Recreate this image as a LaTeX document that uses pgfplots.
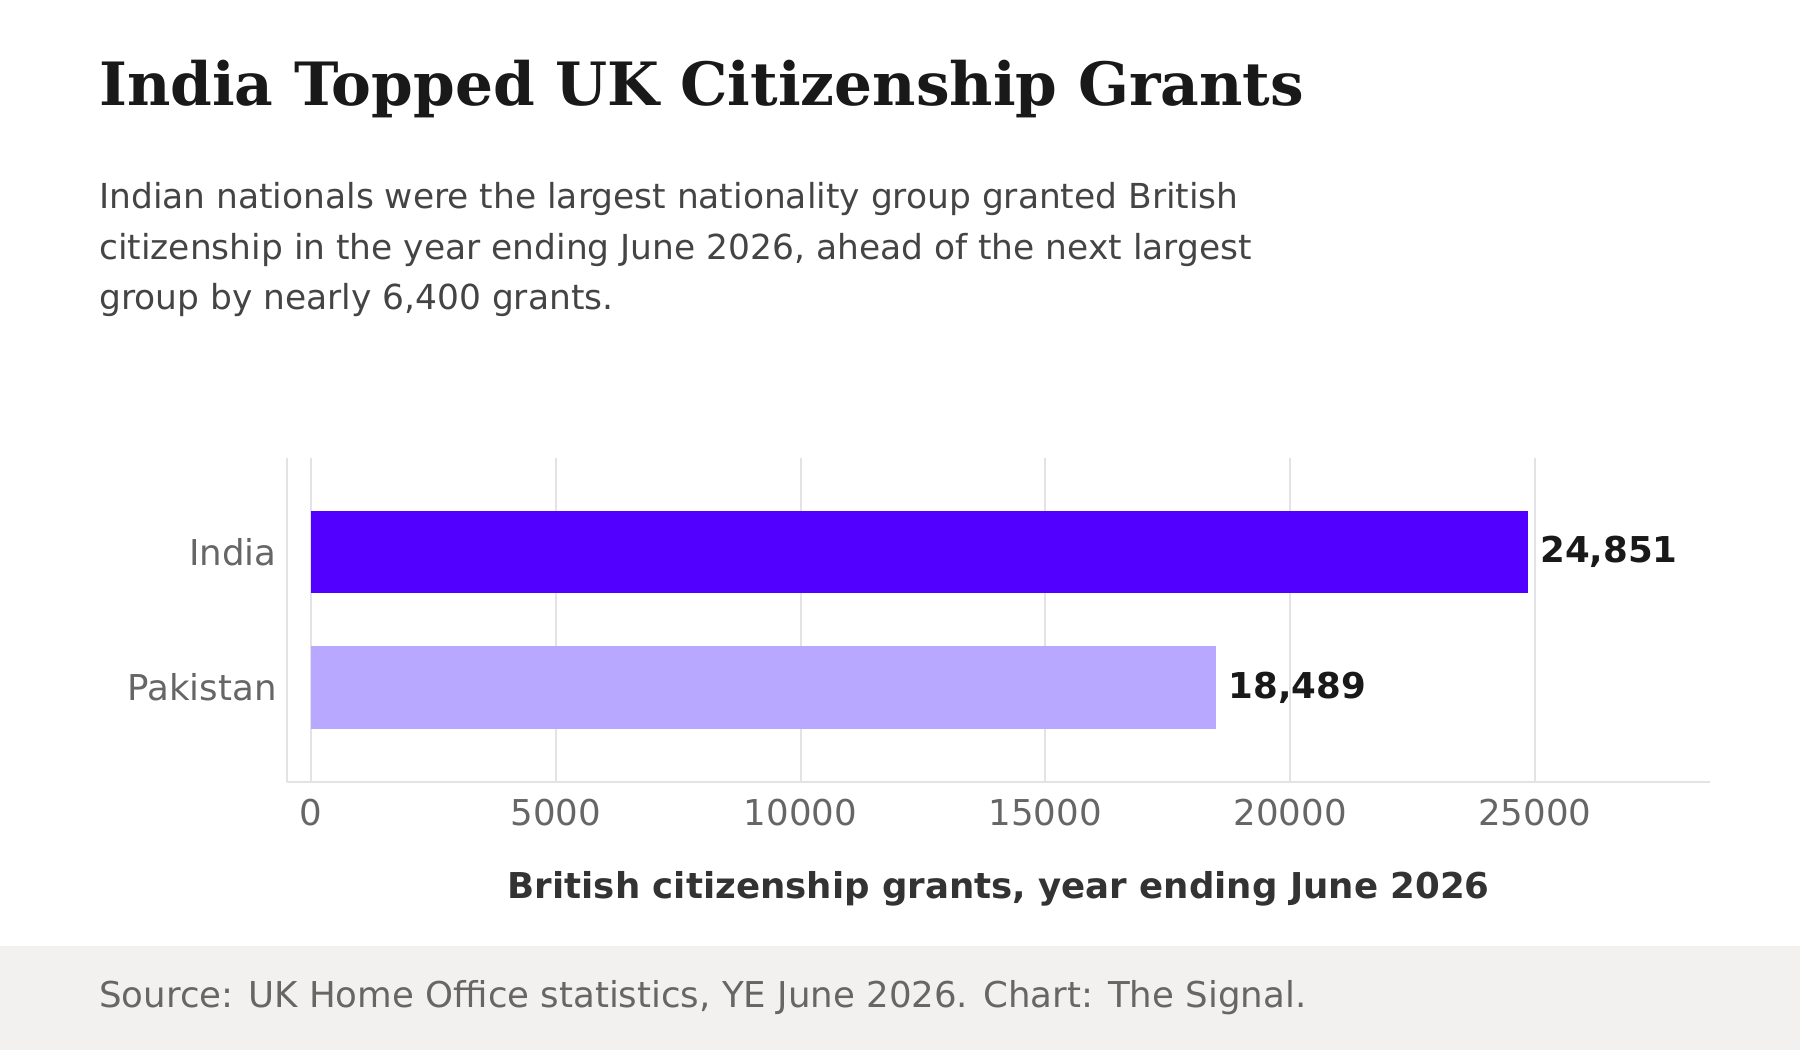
\documentclass[border=0pt]{standalone}
\usepackage{pgfplots}
\pgfplotsset{compat=1.18}
\usepackage{fontspec}
\setmainfont{DejaVu Sans}
\newfontfamily\titlefont{DejaVu Serif}
\definecolor{barA}{HTML}{5200FF}
\definecolor{barB}{HTML}{B8A8FF}
\definecolor{foot}{HTML}{F2F1EF}
\definecolor{gridc}{HTML}{E3E3E3}
\definecolor{txt}{HTML}{444444}
\definecolor{tick}{HTML}{666666}
\begin{document}
\begin{tikzpicture}[x=0.5pt,y=-0.5pt]
\fill[white] (0,0) rectangle (1568,915);
\fill[foot] (0,824) rectangle (1568,915);
\node[anchor=base west,inner sep=0pt,text=black!90] at (86,92) {\titlefont\fontsize{26}{30}\selectfont\bfseries India Topped UK Citizenship Grants};
\begin{scope}[every node/.style={anchor=base west,inner sep=0pt,text=txt,font=\fontsize{15}{18}\selectfont}]
\node at (86,182) {Indian nationals were the largest nationality group granted British};
\node at (86,226) {citizenship in the year ending June 2026, ahead of the next largest};
\node at (86,270) {group by nearly 6,400 grants.};
\end{scope}
\node[anchor=base,inner sep=0pt,text=black!80,font=\fontsize{15.5}{18}\selectfont\bfseries] at (870,783) {British citizenship grants, year ending June 2026};
\node[anchor=base west,inner sep=0pt,text=tick,font=\fontsize{15.5}{18}\selectfont] at (86,878) {Source: UK Home Office statistics, YE June 2026. Chart: The Signal.};
\begin{axis}[at={(125pt,-340.5pt)},anchor=south west,scale only axis,
  width=620pt,height=141pt,
  xmin=-492,xmax=28588,ymin=-0.695,ymax=1.695,
  xbar,bar width=0.61,bar shift=0pt,
  axis x line*=bottom,axis y line*=left,
  axis line style={draw=gridc,line width=0.8pt},
  xmajorgrids,grid style={gridc,line width=0.8pt},
  xtick={0,5000,10000,15000,20000,25000},
  scaled x ticks=false,
  ytick={0,1},yticklabels={Pakistan,India},
  major tick length=0pt,
  /pgf/number format/assume math mode=true,
  xticklabel style={text=tick,font=\fontsize{15.5}{18}\selectfont,/pgf/number format/1000 sep={},yshift=-4pt},
  yticklabel style={text=tick,font=\fontsize{15.5}{18}\selectfont,xshift=-1pt},
  point meta=x,
  nodes near coords={\pgfkeys{/pgf/number format/1000 sep={,}}\pgfmathprintnumber\pgfplotspointmeta},
  nodes near coords style={font=\fontsize{15.5}{18}\selectfont\bfseries,text=black!90,anchor=west,xshift=2pt},
]
\addplot[fill=barA,draw=none] coordinates {(24851,1)};
\addplot[fill=barB,draw=none] coordinates {(18489,0)};
\end{axis}
\end{tikzpicture}
\end{document}
